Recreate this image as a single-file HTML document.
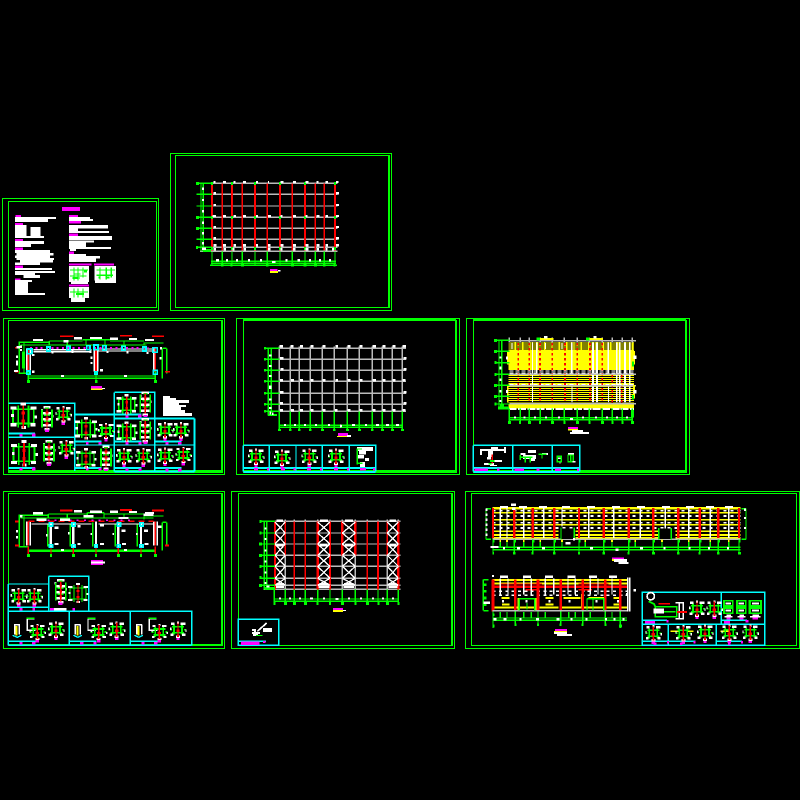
<!DOCTYPE html>
<html><head><meta charset="utf-8"><title>CAD drawing sheets</title>
<style>html,body{margin:0;padding:0;background:#000;width:800px;height:800px;overflow:hidden}svg{display:block}</style></head>
<body>
<svg xmlns="http://www.w3.org/2000/svg" width="800" height="800" viewBox="0 0 800 800" shape-rendering="crispEdges" fill="none">
<defs>
<g id="a"><path stroke="#0f0" stroke-width="4" d="M-24-15H24V18H-24zM-12-24V27M12-24V27"/><path stroke="#fff" stroke-width="7" d="M-30-18h14M16-18h14M-30 21h14M16 21h12M-6-27h12M-4 27h10M-28 0h6M26 3h6"/><path stroke="#f00" stroke-width="4" d="M0-24V30"/><path stroke="#f00" stroke-width="7" d="M-4-6h8M-4 12h8"/></g>
<g id="b"><path stroke="#fff" stroke-width="7" d="M-11-33h22M-13-15h26M-13 3h26M-13 21h26M-8 33h16M-18-24h6M13-6h6"/><path stroke="#0f0" stroke-width="5" d="M-15-27V27M15-27V27M-9-9h18M-9 9h18M-6-30h12"/><path stroke="#f00" stroke-width="4" d="M0-30V30"/><path stroke="#f00" stroke-width="6" d="M-4-18h8M-4 0h8M-4 15h8"/><path stroke="#f0f" stroke-width="7" d="M-6 37h12"/></g>
<g id="c"><path stroke="#0f0" stroke-width="5" d="M-18-9H18M-18 9H18M-12-15V15M12-15V15M-24 0h6M18 0h6"/><path stroke="#fff" stroke-width="7" d="M-21-18h10M8-18h14M-22 15h8M12 15h10M-3-21h6M-6 21h12M-24-3h4M22 3h4"/><path stroke="#f00" stroke-width="4" d="M0-21V15"/><path stroke="#f00" stroke-width="7" d="M-5 3h10M-3 18h6"/><path stroke="#f0f" stroke-width="7" d="M-5 28h10"/></g>
<g id="e"><path stroke="#0f0" stroke-width="5" d="M-13-20H13V-4H-13zM-13 2H13V18H-13z"/><path stroke="#fff" stroke-width="6" d="M-8-12H8M-8 10H8M-6 24H8"/><path stroke="#fff" stroke-width="5" d="M-12 28H12"/><path stroke="#f0f" stroke-width="6" d="M-6 33H6"/></g>
</defs>

<!-- sheet frames -->
<g stroke="#0f0" stroke-width="1.3">
<path d="M2.500 198.500H158.500V310.500H2.500zM170.500 153.500H391.500V310.500H170.500zM3.500 318.500H224.500V474.500H3.500zM236.500 318.500H459.500V474.500H236.500zM466.500 318.500H689.500V474.500H466.500zM3.500 491.500H224.500V648.500H3.500zM231.500 491.500H454.500V648.500H231.500zM465.500 491.500H799.500V648.500H465.500z"/>
<path d="M8.500 201.500H156.500V307.500H8.500zM175.500 155.500H389.500V307.500H175.500zM8.500 320.500H222.500V472.500H8.500zM243.500 320.500H456.500V472.500H243.500zM473.500 320.500H686.500V472.500H473.500zM8.500 493.500H222.500V645.500H8.500zM238.500 493.500H452.500V645.500H238.500zM471.500 493.500H796.500V645.500H471.500z"/>
<path stroke-width="2" d="M389 155V307M222 320V472M8 471h214M243 320h213M456 320V472M243 471h213M473 320h213M686 320V472M473 471h213M222 493V645M452 493V645M8 645h214"/>
</g>

<!-- sheet 1: notes -->
<g transform="translate(0 150) scale(.33333)">
<path fill="#f0f" d="M186 171h54v12h-54zM47 195h16v6H47zM45 219h24v7H45zM45 267h24v7H45zM45 293h24v7H45zM45 347h24v7H45zM45 385h16v8H45zM207 195h27v7h-27zM207 213h36v8h-36zM207 251h27v7h-27zM207 305h15v7h-15zM207 341h68v6h-68zM282 341h60v6h-60zM207 404h60v6h-60z"/>
<path fill="#fff" d="M45 201h123v6H45zM45 207h99v9H45zM45 225h35v33H45zM92 231h30v27H92zM45 258h87v6H45zM45 273h87v9H45zM45 282h48v9H45zM45 300h105v9H45zM50 309h110v7H50zM45 316h105v8H45zM50 324h112v6H50zM60 330h99v8H60zM45 338h75v7H45zM45 354h111v6H45zM45 363h120v6H45zM45 369h60v6H45zM70 375h50v9H70zM45 390h51v6H45zM45 396h39v33H45zM45 429h90v6H45zM207 201h63v6h-63zM207 207h72v6h-72zM207 225h117v10H207zM207 235h27v8h-27zM207 243h120v6H207zM207 258h129v12H207zM207 272h75v6h-75zM207 278h51v13h-51zM207 291h126v6H207zM210 297h18v6h-18zM207 312h51v6h-51zM207 318h93v8h-93zM207 326h81v10h-81zM207 348h60v48h-60zM283 348h65v44h-65zM207 411h60v33h-60zM213 396h51v6h-51zM285 392h63v7h-63zM213 444h42v12h-42z"/>
<path stroke="#0f0" stroke-width="4" d="M210 360h54M210 378h50M222 352v40M234 352v40M249 352v30M289 360h56M289 376h50M300 352v36M319 352v36M334 352v30M210 426h54M222 415v28M234 415v28M249 415v28M216 384h24M222 372h20"/>
<path stroke="#0f0" stroke-width="6" d="M252 365h9M219 384h15M296 382h6M320 382h8M228 432h24"/>
</g>

<!-- sheet 2: plan with red columns -->
<g transform="translate(0 150) scale(.33333)">
<path stroke="#bbb" stroke-width="4" d="M600 100H1012M600 133H1012M600 168H1012M600 202H1012M600 235H1012M600 268H1012M600 292H1012M600 304H1012"/>
<path stroke="#f00" stroke-width="7" d="M636 100V302M696 100V302M765 100V302M840 100V302M915 100V302M1005 100V302"/>
<path stroke="#f00" stroke-width="4" d="M667 100V302M727 100V302M802 100V302M877 100V302M946 100V302M973 100V302"/>
<path stroke="#0f0" stroke-width="4" d="M603 100V304M610 100V304M590 100H636M590 133H636M590 168H636M590 202H636M590 235H636M590 268H636M590 292H636M636 304V346M667 304V346M696 304V346M727 304V346M765 304V346M802 304V346M840 304V346M877 304V346M915 304V346M946 304V346M973 304V346M1005 304V346M633 334H1008M633 340H1008M630 346H1011"/>
<path stroke="#0f0" stroke-width="9" d="M588 100h9M588 202h9M588 235h9M588 292h6M663 345h8M692 345h6M723 345h9M798 345h8M873 345h9M911 345h8M942 345h9M969 345h8M1001 345h6M633 100h6M693 100h6M762 100h6M837 100h6M912 100h6M1002 100h6M633 202h6M693 202h6M762 202h6M837 202h6M912 202h6M1002 202h6M633 296h6M693 296h6M762 296h6M837 296h6M912 296h6M1002 296h6M609 301h24"/>
<path stroke="#fff" stroke-width="7" d="M640 96h6M669 96h9M700 96h6M729 96h9M768 96h6M804 96h3M842 96h9M879 96h9M917 96h9M949 96h6M976 96h8M1008 96h8M640 130h8M1008 130h9M640 165h8M1008 165h9M638 198h10M669 198h9M700 198h8M729 198h9M768 198h6M804 198h9M842 198h6M879 198h9M917 198h6M949 198h9M976 198h8M1008 198h9M640 231h8M1008 231h9M640 265h8M1008 265h9M640 286h9M669 286h9M700 286h8M729 286h9M768 286h6M804 286h8M842 286h8M879 286h9M917 286h8M949 286h9M976 286h8M1008 286h9M640 298h8M670 298h8M698 298h6M730 298h8M804 298h8M842 298h6M879 298h8M917 298h8M949 298h8M976 298h6M996 298h6M606 116h6M606 150h6M606 184h6M606 218h6M606 250h6M606 280h6M606 296h12M816 336h10M648 331h9M678 331h6M708 331h6M744 331h6M780 331h6M856 331h6M892 331h8M927 331h6M957 331h6M987 331h6"/>
<path fill="#f0f" d="M810 357h22v6h-22z"/><path fill="#ff0" d="M810 363h24v6h-24z"/><path fill="#fff" d="M834 360h8v5h-8z"/>
</g>

<!-- sheet 3: portal frame with details -->
<g transform="translate(0 315) scale(.33333)">
<path stroke="#0f0" stroke-width="4" d="M55 82H148M148 78H248M248 74H330M330 78H432M432 84H490M62 90H440M148 78v12M202 76v14M258 74v14M315 74v14M372 78v14M432 82v10M58 84V175M72 84V175M487 100V190M500 100V175M487 100h13M55 175H85M85 183H466M85 190H466M85 165v35M288 165v35M466 165v35"/>
<path stroke="#0f0" stroke-width="9" d="M81 200h9M285 200h8M462 200h9M70 110v50"/>
<path stroke="#f00" stroke-width="5" d="M85 100V170M288 100V170M466 100V170"/>
<path stroke="#fff" stroke-width="4" d="M80 100V170M283 100V170M293 100V170M461 100V170M91 100V170M100 110H275M295 108H460M100 104H275M295 102H460"/>
<path stroke="#f0f" stroke-width="5" stroke-dasharray="6 10" d="M90 99H445"/>
<path stroke="#0ff" stroke-width="5" d="M82 102h14v14H82zM140 96h10v12h-10zM200 94h10v12h-10zM260 92h10v12h-10zM282 90h12v14h-12zM308 92h10v14h-10zM366 94h10v12h-10zM428 96h10v12h-10zM458 98h14v14h-14zM80 168h10v10H80zM284 170h8v8h-8zM460 166h12v12h-12z"/>
<path stroke="#f00" stroke-width="4" d="M180 64h40M360 62h36M456 64h36M45 98h15M495 170h15M45 170h12"/>
<path stroke="#fff" stroke-width="7" d="M99 75h30M222 70h24M270 69h36M330 71h24M387 72h24M435 75h27M190 79h15M48 125h6M48 140h6M48 148h6M60 95h6M60 105h6M42 168h12M155 112h6M215 110h6M268 110h6M320 110h6M380 112h6M440 114h6M272 128h6M272 144h6M300 166h9M183 183h9M372 183h9M50 97h10M480 100h6M478 130h6M96 120h8M96 170h8"/>
<path fill="#f0f" d="M273 213h33v7h-33z"/><path fill="#ff0" d="M273 220h35v5h-35z"/><path fill="#fff" d="M306 219h9v3h-9z"/>
<path fill="#fff" d="M489 243h21v6h-21zM489 249h39v6h-39zM489 255h78v9H489zM489 264h48v6h-48zM489 270h69v6h-69zM489 276h54v9h-54zM489 285h66v9h-66zM489 294h87v9H489z"/>
<path stroke="#0ff" stroke-width="4" d="M25 265H224V468M25 367H224M224 390H343M343 232H464V310M343 232V470M343 390H584M464 310V470"/>
<path stroke="#0ff" stroke-width="6" d="M224 299H425M343 311H584M584 311V470M343 470H584M25 355H105M25 459H105M224 380H305M224 459H305M343 380H425M343 459H425M464 380H544M464 459H544"/>
<path stroke="#f0f" stroke-width="8" d="M58 361h10M96 360h10M96 462h10M58 463h10M258 385h8M295 385h10M258 463h8M295 463h10M376 385h10M415 385h10M376 464h10M415 464h10M496 385h10M534 385h10M496 465h10M534 465h10M376 305h10M414 303h10"/>
<use href="#a" transform="translate(70 302) scale(1.3)"/><use href="#b" x="141" y="310"/><use href="#c" x="190" y="298"/>
<use href="#a" transform="translate(72 415) scale(1.3)"/><use href="#b" x="147" y="412"/><use href="#c" x="199" y="400"/>
<use href="#a" transform="translate(258 340) scale(1.1)"/><use href="#c" x="318" y="348"/><use href="#a" x="258" y="430"/><use href="#b" x="318" y="428"/>
<use href="#a" x="380" y="268"/><use href="#b" x="436" y="266"/><use href="#a" x="380" y="350"/><use href="#b" x="436" y="346"/><use href="#c" x="495" y="346"/><use href="#c" x="543" y="346"/>
<use href="#c" x="372" y="424"/><use href="#c" x="430" y="424"/><use href="#c" x="495" y="422"/><use href="#c" x="550" y="420"/>
</g>

<!-- sheet 4: plan grid -->
<g transform="translate(232 315) scale(.33333)">
<path stroke="#bbb" stroke-width="4" d="M142 100H522M142 133H522M142 166H522M142 199H522M142 235H522M142 268H522M142 289H522M142 95V290M175 95V290M202 95V290M235 95V290M271 95V290M307 95V290M346 95V290M382 95V290M421 95V290M451 95V290M481 95V290M511 95V290"/>
<path stroke="#0f0" stroke-width="4" d="M109 97V302M118 97V295M97 100H142M97 133H142M97 166H142M97 199H142M97 235H142M97 268H142M97 289H142M142 290V346M175 290V346M202 290V346M235 290V346M271 290V346M307 290V346M346 290V346M382 290V346M421 290V346M451 290V346M481 290V346M511 290V346M142 331H511M142 337H511"/>
<path stroke="#0f0" stroke-width="7" d="M96 100h6M96 133h6M96 166h6M96 199h6M96 235h6M96 268h6M96 289h6M138 345h9M171 345h8M198 345h8M231 345h8M267 345h9M303 345h8M342 345h9M378 345h9M417 345h8M447 345h9M477 345h9M507 345h9M108 300h27"/>
<path stroke="#fff" stroke-width="7" d="M142 94h11M175 94h9M204 94h9M236 94h9M272 94h9M310 94h8M347 94h9M383 94h9M421 94h11M452 94h9M481 94h9M512 94h10M144 130h11M515 130h9M145 163h10M515 163h9M144 196h9M177 196h9M204 196h9M236 196h9M272 196h9M310 196h8M347 196h9M383 196h9M421 196h11M452 196h9M482 196h9M512 196h9M144 232h11M515 232h9M144 265h9M514 265h9M144 286h9M177 286h9M204 286h9M236 286h9M272 286h9M309 286h8M347 286h9M383 286h9M421 286h9M452 286h9M482 286h9M512 286h9M115 118V124M115 150v6M115 180v6M115 212v10M115 250v6M115 276v6M156 330h6M186 330h6M216 330h6M249 330h6M288 330h6M324 333h6M360 330h9M399 330h6M432 330h9M462 330h9M492 330h9"/>
<path stroke="#fff" stroke-width="5" d="M115 290v8M122 292v8M326 328v10"/>
<path fill="#f0f" d="M318 354h30v9h-30z"/><path fill="#ff0" d="M315 363h33v3h-33z"/><path fill="#fff" d="M345 360h12v6h-12z"/>
<path stroke="#0ff" stroke-width="4" d="M34 391H431V470M34 391V470M112 391V470M192 391V470M271 391V470M352 391V470"/>
<path stroke="#0ff" stroke-width="6" d="M34 459H431M34 471H431"/>
<path stroke="#f0f" stroke-width="7" d="M66 463h12M147 463h12M225 463h12M306 463h12M384 463h18M105 463h6M185 463h6M264 463h6M345 463h6M423 463h6"/>
<use href="#c" x="72" y="425"/><use href="#c" x="150" y="428"/><use href="#c" x="232" y="425"/><use href="#c" x="312" y="425"/>
<path fill="#fff" d="M375 396h48v12h-48zM381 408h21v10h-21zM378 420h18v10h-18zM399 429h12v9h-12zM384 441h15v15h-15z"/>
<path stroke="#0f0" stroke-width="4" d="M376 400V448M376 445h15M378 402h12"/>
</g>

<!-- sheet 5: yellow plan -->
<g transform="translate(462 315) scale(.33333)">
<path fill="#ff0" d="M140 81H516V165H140zM140 180H516V262H135V210H140zM140 265H516V280H140z"/>
<path stroke="#000" stroke-width="3" stroke-dasharray="18 4" d="M140 84H516M140 90H516M140 96H516M140 102H516"/>
<path stroke="#000" stroke-width="3" d="M140 184H516M140 190H516M140 196H516M140 202H516M140 218H516M140 224H516M140 230H516M140 236H516M140 242H516M140 248H516M140 254H516M140 260H516"/>
<path stroke="#fff" stroke-width="3" stroke-dasharray="12 6" d="M142 168H516M142 174H516M142 208H516"/>
<path stroke="#fff" stroke-width="5" d="M224 82V180M329 82V180M393 82V262M405 82V262M439 82V180M464 82V262M473 82V262M489 82V262M503 82V262"/>
<path stroke="#fff" stroke-width="3" d="M150 84V102M212 82V262M250 84V102M300 84V102M330 215V262M440 215V262"/>
<path stroke="#f00" stroke-width="5" stroke-dasharray="8 7" d="M169 84V262M202 84V262M234 84V262M271 84V262M309 84V262M346 84V262M384 84V262M421 84V262M451 180V262M479 180V262"/>
<path stroke="#bbb" stroke-width="4" d="M142 77H522M142 68V82M175 68V82M202 68V82M235 68V82M271 68V82M307 68V82M346 68V82M382 68V82M421 68V82M451 68V82M481 68V82M511 68V82M142 178H522M142 212H522M142 266H522"/>
<path stroke="#fff" stroke-width="5" stroke-dasharray="24 4" d="M140 282H516"/>
<path fill="#ff0" d="M234 69h40v6h-40zM381 69h42v6h-42zM135 108h6v40h-6zM513 108h6v40h-6zM513 210h6v40h-6z"/>
<path fill="#fff" d="M246 63h10v8h-10zM394 63h10v8h-10zM132 125h6v8h-6zM132 225h6v9h-6zM514 122h10v10h-10zM514 225h10v10h-10z"/>
<path fill="#0f0" d="M224 68h10v9h-10zM372 68h10v9h-10zM510 140h6v14h-6zM510 240h6v14h-6z"/>
<path stroke="#0f0" stroke-width="4" d="M111 76V278M119 76V278M97 76H142M97 109H142M97 143H142M97 178H142M97 211H142M97 244H142M97 267H142M142 280V322M175 280V322M202 280V322M235 280V322M271 280V322M307 280V322M346 280V322M382 280V322M421 280V322M451 280V322M481 280V322M511 280V322M142 308H511M142 314H511"/>
<path stroke="#0f0" stroke-width="9" d="M96 76h9M96 109h9M97 143h6M97 178h6M96 211h9M96 244h9M97 267h6M138 322h9M171 322h6M198 322h9M231 322h6M267 322h9M304 322h6M342 322h9M380 322h6M417 322h9M448 322h6M478 322h6M507 322h9M108 279h33M114 270h12M511 285v22"/>
<path stroke="#fff" stroke-width="6" d="M115 125v6M115 155v8M115 190v8M115 225v8M115 255v6M156 307h6M185 307h6M216 307h6M249 307h6M288 307h6M324 312h9M360 307h6M399 307h6M432 307h6M462 307h6M492 307h6"/>
<path fill="#f0f" d="M318 336h30v6h-30z"/><path fill="#ff0" d="M318 342h30v4h-30z"/><path fill="#fff" d="M330 345h33v6h-33zM324 351h57v6h-57z"/>
<path stroke="#0ff" stroke-width="4" d="M34 391H353V470M34 391V470M152 391V470M271 391V470"/>
<path stroke="#0ff" stroke-width="6" d="M34 459H353M34 471H353"/>
<path stroke="#f0f" stroke-width="7" d="M38 464h40M158 464h28M279 464h18M105 464h8M224 464h8M345 464h6"/>
<path fill="#fff" d="M54 402h78v6H54zM54 402h6v18h-6zM126 396h6v18h-6zM87 396h21v12H87zM78 408h15v18H78zM75 426h12v8H75zM66 444h30v6H66zM93 435h27v6H93zM84 450h21v3H84z"/>
<path stroke="#f00" stroke-width="4" d="M91 418V445"/><path stroke="#0f0" stroke-width="5" d="M84 438h14M80 446h8"/>
<path fill="#fff" d="M175 414h15v6h-15zM198 405h24v9h-24zM183 420h39v12h-39zM204 432h15v6h-15zM240 414h18v6h-18z"/>
<path stroke="#0f0" stroke-width="4" d="M175 420v15M175 427h36M190 427v15M205 427v15M230 418h24M240 418v12"/>
<path stroke="#0f0" stroke-width="4" d="M286 424h12v16h-12zM318 420h16v20h-16zM326 414v24"/>
<path stroke="#fff" stroke-width="4" d="M288 430h8M294 442v4M332 440h9M318 416h18"/>
</g>

<!-- sheet 6: long portal frame -->
<g transform="translate(0 488) scale(.33333)">
<path stroke="#0f0" stroke-width="4" d="M55 82H145M145 78H262M262 74H312M312 78H430M430 84H490M62 90H440M145 78v12M202 76v14M262 74v14M312 74v14M372 78v14M58 84V176M72 84V176M487 103V188M500 103V176M487 103h13M55 176H85M143 110V176M211 110V176M278 103V176M346 110V176M412 110V176M432 90h28M432 84v10"/>
<path stroke="#0f0" stroke-width="7" d="M85 188H466"/>
<path stroke="#0f0" stroke-width="9" d="M81 202h9M216 202h9M351 202h9M462 202h9M150 202h6M285 202h6M420 202h6"/>
<path stroke="#f00" stroke-width="4" d="M85 100V172M466 100V172M85 175v23M153 175v23M220 175v23M288 175v23M355 175v23M423 175v23M466 175v23"/>
<path stroke="#fff" stroke-width="7" d="M152 100V176M220 100V176M288 100V176M355 100V176M423 100V176"/>
<path stroke="#fff" stroke-width="4" d="M80 100V172M91 100V172M461 100V172M472 100V172M95 108H275M295 108H460"/>
<path stroke="#f00" stroke-width="4" stroke-dasharray="18 12" d="M85 100H460"/>
<path stroke="#f0f" stroke-width="5" stroke-dasharray="6 16" d="M120 97H400"/>
<path stroke="#f00" stroke-width="6" d="M180 68h38M360 66h36M456 67h36M45 101h10M495 172h12M45 172h12"/>
<path stroke="#0ff" stroke-width="5" d="M148 104h10v10h-10zM216 104h10v10h-10zM352 104h10v10h-10zM420 104h10v10h-10zM148 170h10v8h-10zM216 170h10v8h-10zM284 170h8v8h-8zM352 170h8v8h-8zM419 170h10v8h-10z"/>
<path stroke="#fff" stroke-width="7" d="M99 76h30M222 70h24M270 71h36M330 71h24M387 72h24M435 75h27M164 119h12M232 115h10M300 112h12M364 128h12M432 128h12M474 116h10M164 168h12M232 168h10M300 168h12M366 168h12M434 168h12M183 186h9M372 186h9M138 142h4M204 136h4M272 138h4M338 138h4M408 138h4M48 130h6M48 148h6M60 85h8M430 80h30M250 85h30M355 90h30M110 95h30M180 95h30"/>
<path fill="#f0f" d="M273 216h36v5h-36zM273 226h36v5h-36z"/><path fill="#fff" d="M273 221h42v5h-42z"/>
<path stroke="#0ff" stroke-width="4" d="M25 288H146M25 288V472M146 265H266V370M146 265V370M25 370H575V472M208 370V472M391 370V472M25 472H575M25 358H146M25 460H106M208 460H290M391 460H472"/>
<path stroke="#f0f" stroke-width="7" d="M58 364h10M97 364h8M150 364h12M217 364h8M58 466h10M96 466h10M240 466h10M280 466h10M424 466h10M462 466h10"/>
<path fill="#fff" d="M162 360h38v8h-38z"/>
<use href="#c" x="56" y="325"/><use href="#c" x="103" y="325"/><use href="#b" x="182" y="310"/><use href="#a" x="234" y="315"/>
<path stroke="#ff0" stroke-width="6" d="M50 414v28M233 414v28M416 414v28"/>
<path stroke="#fff" stroke-width="4" d="M42 410h18M44 410v30M58 410v30M224 410h18M226 410v30M241 410v30M408 410h18M410 410v30M425 410v30"/>
<path stroke="#0ff" stroke-width="4" d="M38 442l14 6 12-6M220 442l14 6 12-6M403 442l14 6 12-6"/>
<path stroke="#fff" stroke-width="4" d="M80 392h24M82 392v35h24M262 392h24M264 392v35h24M446 392h24M448 392v35h24"/>
<path stroke="#0f0" stroke-width="4" d="M80 391h24M262 391h24M446 391h24"/>
<use href="#c" x="112" y="432"/><use href="#c" x="168" y="425"/><use href="#c" x="296" y="432"/><use href="#c" x="350" y="425"/><use href="#c" x="478" y="432"/><use href="#c" x="534" y="425"/>
</g>

<!-- sheet 7: bracing plan -->
<g transform="translate(230 488) scale(.33333)">
<path stroke="#bbb" stroke-width="4" d="M100 100H512M100 135H512M100 168H512M100 202H512M100 235H512M100 271H512M100 292H512M100 304H512M166 95V304M472 95V304M193 95V100M226 95V100M263 95V100M300 95V100M337 95V100M376 95V100M412 95V100M444 95V100M505 95V100"/>
<path stroke="#f00" stroke-width="7" d="M135 100V304M263 100V304M300 100V304M337 100V202M376 100V202M444 100V304M505 100V304"/>
<path stroke="#f00" stroke-width="4" d="M166 100V202M193 100V304M226 100V304M412 100V304M472 100V202"/>
<path stroke="#bbb" stroke-width="4" d="M337 202V304M376 202V304M472 202V304"/>
<path stroke="#fff" stroke-width="4" d="M135 102L166 135M166 102L135 135M135 135L166 168M166 135L135 168M135 168L166 202M166 168L135 202M135 202L166 235M166 202L135 235M135 235L166 271M166 235L135 271M135 271L166 292M166 271L135 292M263 102L300 135M300 102L263 135M263 135L300 168M300 135L263 168M263 168L300 202M300 168L263 202M263 202L300 235M300 202L263 235M263 235L300 271M300 235L263 271M263 271L300 292M300 271L263 292M337 102L376 135M376 102L337 135M337 135L376 168M376 135L337 168M337 168L376 202M376 168L337 202M337 202L376 235M376 202L337 235M337 235L376 271M376 235L337 271M337 271L376 292M376 271L337 292M472 102L505 135M505 102L472 135M472 135L505 168M505 135L472 168M472 168L505 202M505 168L472 202M472 202L505 235M505 202L472 235M472 235L505 271M505 235L472 271M472 271L505 292M505 271L472 292"/>
<path stroke="#fff" stroke-width="7" d="M139 98h20M270 98h24M345 98h24M478 98h20M140 172h20M270 172h22M345 172h24M478 172h20M140 288h22M268 288h28M342 288h28M476 288h24M138 296h24M266 296h32M340 296h32M476 296h26"/>
<path stroke="#0f0" stroke-width="4" d="M103 100V304M110 100V304M89 100H135M89 135H135M89 168H135M89 202H135M89 235H135M89 271H135M89 292H135M133 304V346M166 304V346M193 304V346M226 304V346M263 304V346M300 304V346M337 304V346M376 304V346M412 304V346M444 304V346M472 304V346M505 304V346M133 333H505M133 340H505"/>
<path stroke="#0f0" stroke-width="9" d="M88 100h6M88 135h6M87 168h9M87 202h9M88 235h6M88 269h6M87 292h9M130 346h6M162 346h9M189 346h9M222 346h9M260 346h6M297 346h6M333 346h9M373 346h6M408 346h9M442 346h6M468 346h9M502 346h6M105 302h30"/>
<path stroke="#fff" stroke-width="6" d="M107 118v6M107 150v6M107 185v6M107 218v6M107 250v6M107 282v6M110 295h8M147 332h6M177 332h6M207 332h6M240 332h9M279 332h6M316 333h9M354 332h6M390 332h6M426 332h6M456 332h6M486 332h6"/>
<path fill="#f0f" d="M309 360h30v6h-30z"/><path fill="#ff0" d="M309 366h30v6h-30z"/><path fill="#fff" d="M339 366h9v3h-9z"/>
<path stroke="#0ff" stroke-width="4" d="M25 394H146V472H25zM25 460H108"/>
<path fill="#f0f" d="M33 461h55v10H33zM99 459h8v6h-8z"/>
<path fill="#fff" d="M99 420h27v12H99zM66 423h12v6H66zM66 432h24v6H66zM69 438h15v6H69z"/>
<path stroke="#fff" stroke-width="5" d="M75 423V444M82 430L110 405"/><path stroke="#0f0" stroke-width="3" d="M78 442h20"/>
</g>

<!-- sheet 8: elevations -->
<g transform="translate(462 488) scale(.33333)">
<path stroke="#ff0" stroke-width="5" d="M92 74H835M92 95H835M92 110H835M92 130H290M340 130H590M640 130H835M92 141H290M340 141H590M640 141H835M92 149H290M340 149H590M640 149H835"/>
<path stroke="#ff0" stroke-width="8" d="M92 61H835"/>
<path stroke="#fff" stroke-width="5" stroke-dasharray="9 12" d="M92 68H835M92 84H835M92 104H835M92 120H835"/>
<path stroke="#bbb" stroke-width="4" d="M92 154H835"/>
<path stroke="#fff" stroke-width="4" d="M115 60V150M135 60V150M185 60V150M245 60V150M300 60V115M380 60V150M455 60V150M535 60V150M610 60V150M680 60V150M745 60V150M800 60V150"/>
<path stroke="#f00" stroke-width="7" d="M93 60V150M157 60V150M212 60V150M277 60V150M351 60V150M425 60V150M500 60V150M574 60V150M649 60V150M713 60V150M769 60V150M831 60V150"/>
<path fill="#000" d="M299 121h35v32h-35zM592 121h36v32h-36z"/>
<path stroke="#0f0" stroke-width="4" d="M297 118V154M337 118V154M590 120V154M628 120V154M72 62V154M72 62h15M72 154h15M852 62V154M838 62h14M838 154h14M92 178H835M92 185H835M93 154V198M157 154V198M212 154V198M277 154V198M351 154V198M425 154V198M500 154V198M574 154V198M649 154V198M713 154V198M769 154V198M831 154V198M115 156v20M135 156v20M185 156v20M235 156v20M300 156v20M370 156v20M450 156v20M520 156v20M600 156v20M680 156v20M745 156v20M800 156v20"/>
<path stroke="#0f0" stroke-width="8" d="M91 196h5M153 196h8M209 196h6M273 196h8M348 196h6M421 196h8M497 196h6M570 196h9M645 196h8M710 196h6M765 196h8M828 196h9M93 160h5M157 160h5M212 160h5M277 160h5M351 160h5M425 160h5M500 160h5M574 160h5M649 160h5M713 160h5M769 160h5M831 160h5"/>
<path stroke="#ff0" stroke-width="5" d="M115 154v8M135 154v8M185 154v8M235 154v8M300 154v8M370 154v8M450 154v8M520 154v8M600 154v8M680 154v8M745 154v8M800 154v8"/>
<path stroke="#fff" stroke-width="7" d="M114 57h24M171 57h24M231 57h24M300 57h24M375 57h24M450 57h24M525 57h24M600 57h24M672 57h24M732 57h24M789 57h24M147 50h15M150 62h10M85 177h24M123 181h6M165 181h9M240 181h9M310 166h15M333 154h6M384 181h9M460 185h9M534 181h9M605 181h6M680 181h6M738 181h6M795 181h6M70 65h6M70 80h6M70 95h6M70 110h6M70 125h6M70 140h6M846 65h6M846 90h6M846 120h6"/>
<path fill="#f0f" d="M450 208h36v5h-36z"/><path fill="#ff0" d="M450 213h6v6h-6z"/><path fill="#fff" d="M456 213h39v9h-39zM470 222h30v6h-30z"/>
<path stroke="#ff0" stroke-width="6" d="M92 276H495M92 286H495M92 358H290M300 358H495M118 330h24M250 330h24M305 330h50M380 330h50M455 330h24M169 330V368M220 330V368M360 318V360M430 330V368M120 350h22M250 350h24M455 350h24"/>
<path stroke="#fff" stroke-width="4" stroke-dasharray="9 10" d="M92 310H495M92 322H495"/>
<path stroke="#f00" stroke-width="7" d="M92 296H495"/><path stroke="#f00" stroke-width="4" d="M115 288H240M350 288H440M190 305h35M350 305h40"/>
<path stroke="#f00" stroke-width="8" d="M93 275V370M160 275V370M228 275V370M296 275V370M362 275V370M430 275V370M475 275V370"/>
<path stroke="#fff" stroke-width="4" d="M115 272V320M138 272V320M185 272V320M208 272V320M250 272V320M275 272V320M318 272V320M340 272V320M385 272V320M408 272V320M450 272V320M497 268V370M503 268V370"/>
<path stroke="#bbb" stroke-width="4" d="M92 368H495"/>
<path stroke="#0f0" stroke-width="4" d="M172 332H218V368M172 332V368M375 332H425V368M375 332V368M393 332V368M195 345v20M92 390H495M92 397H495M64 275V368M64 275h16M64 368h16M93 370V420M160 370V410M228 370V410M296 370V410M362 370V410M430 370V410M475 370V420M115 372v18M135 372v18M185 372v18M208 372v18M250 372v18M320 372v18M340 372v18M385 372v18M450 372v18"/>
<path stroke="#0f0" stroke-width="8" d="M91 380h6M91 414h6M157 410h6M225 410h6M293 410h6M359 410h6M427 410h6M471 414h9M64 290h10M64 310h10M64 330h10M64 350h10"/>
<path stroke="#fff" stroke-width="7" d="M114 266h24M183 266h24M249 266h24M316 266h24M381 266h24M441 266h24M90 264h6M94 394h9M124 394h9M172 394h6M222 394h9M284 394h9M325 394h6M370 394h6M429 394h6M455 394h6M482 394h6M514 307h8M492 318h6M64 344h20M120 340h6M190 340h6M260 340h6M320 340h6M400 340h6M465 340h6"/>
<path fill="#f0f" d="M279 423h36v6h-36z"/><path fill="#ff0" d="M276 429h39v3h-39z"/><path fill="#fff" d="M276 432h39v6h-39zM285 438h45v6h-45z"/>
<path stroke="#0ff" stroke-width="4" d="M541 313H908V472H541zM541 409H908M778 313V409M619 409V472M763 409V472M541 397H615M541 397V409M778 397H855M541 460H619M619 460H700M763 460H840"/>
<path stroke="#f0f" stroke-width="7" d="M549 403h30M786 403h18M574 467h10M654 467h8M798 467h8M614 400h6M851 400h8M615 463h6M694 463h6M837 463h6"/>
<path stroke="#fff" stroke-width="5" d="M558 332a11 11 0 1 1 1 1"/>
<path stroke="#0f0" stroke-width="5" d="M560 340l16 8 4 8M580 356H644V386H580ZM580 371H640"/>
<path fill="#fff" d="M574 362h32v14h-32z"/>
<path stroke="#fff" stroke-width="4" d="M640 344H664V392H640M652 344V392"/>
<path stroke="#f00" stroke-width="5" d="M590 347h34M645 372h30"/>
<use href="#c" x="705" y="362"/><use href="#c" x="757" y="362"/>
<use href="#e" x="799" y="358"/><use href="#e" x="838" y="358"/><use href="#e" transform="translate(880 358) scale(1.3 1)"/>
<use href="#c" x="574" y="436"/>
<path stroke="#ff0" stroke-width="5" d="M625 430h28M675 430h20M775 430h26"/>
<use href="#c" x="664" y="436"/><use href="#c" x="729" y="434"/><use href="#c" x="802" y="434"/><use href="#c" x="865" y="434"/>
</g>
</svg>
</body></html>
